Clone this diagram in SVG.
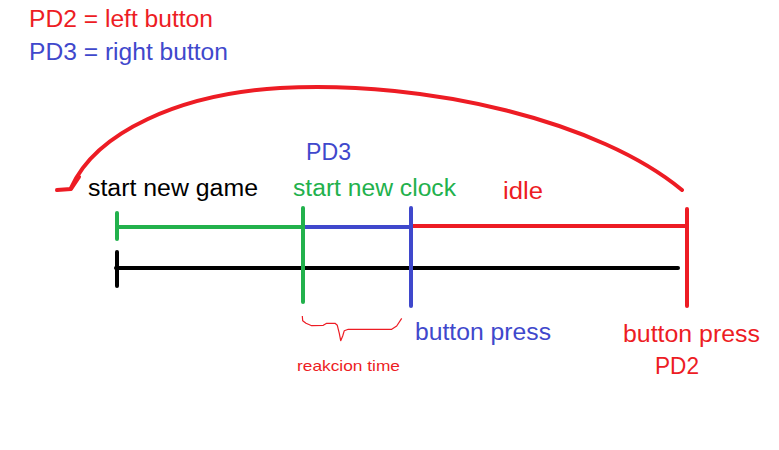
<svg xmlns="http://www.w3.org/2000/svg" width="779" height="450" viewBox="0 0 779 450">
  <style>
    .t { font-family: "Liberation Sans", "Noto Sans", Arial, sans-serif; font-size: 23px; }
    .small { font-size: 15px; }
    .red { fill: #ED1C24; }
    .blue { fill: #3F48CC; }
    .green { fill: #22B14C; }
    .black { fill: #000000; }
    .ln { fill: none; stroke-width: 4; stroke-linecap: round; stroke-linejoin: round; }
  </style>
  <rect width="779" height="450" fill="#ffffff"/>

  <!-- legend -->
  <g id="legend">
    <text class="t red" x="29" y="27" textLength="184" lengthAdjust="spacingAndGlyphs">PD2 = left button</text>
    <text class="t blue" x="29" y="60" textLength="199" lengthAdjust="spacingAndGlyphs">PD3 = right button</text>
  </g>

  <!-- connectors: timelines, markers and the return arc -->
  <g id="connectors">
    <!-- return arc from the PD2 press back to a new game -->
    <path class="ln" stroke="#ED1C24" d="M682,190 C600,122 430,80 280,88 C180,94 96,132 71,188"/>
    <path class="ln" stroke="#ED1C24" d="M79,177 L71,189 L57,190"/>

    <!-- reference timeline -->
    <line class="ln" stroke="#000000" x1="116" y1="268" x2="678" y2="268"/>
    <line class="ln" stroke="#000000" x1="117" y1="252" x2="117" y2="286"/>

    <!-- game phases -->
    <line class="ln" stroke="#22B14C" x1="117" y1="227" x2="302" y2="227"/>
    <line class="ln" stroke="#22B14C" x1="117" y1="213" x2="117" y2="239"/>
    <line class="ln" stroke="#3F48CC" x1="305" y1="227" x2="411" y2="227"/>
    <line class="ln" stroke="#ED1C24" x1="412" y1="226" x2="686" y2="226"/>

    <line class="ln" stroke="#22B14C" x1="303" y1="208" x2="303" y2="302"/>
    <line class="ln" stroke="#3F48CC" x1="411" y1="208" x2="411" y2="306"/>
    <line class="ln" stroke="#ED1C24" x1="687" y1="209" x2="687" y2="306"/>

    <!-- brace under the reaction interval -->
    <path fill="none" stroke="#ED1C24" stroke-width="1.2" stroke-linejoin="round"
          d="M302.3,316 L302.7,320.7 L306,323.3 L311.7,325.7 L323.3,325.3 L326.7,323.3 L335,323.3 L337.3,325.3 L339.3,333.3 L340.7,340.7 L342.7,336 L344.3,330.7 L348.3,329.3 L391.7,329.3 L396.7,326 L401.7,318.3"/>
  </g>

  <g id="start-new-game">
    <text class="t black" x="88" y="196" textLength="170" lengthAdjust="spacingAndGlyphs">start new game</text>
  </g>

  <g id="start-new-clock">
    <text class="t blue" x="306" y="160" textLength="45" lengthAdjust="spacingAndGlyphs">PD3</text>
    <text class="t green" x="293" y="196" textLength="163" lengthAdjust="spacingAndGlyphs">start new clock</text>
  </g>

  <g id="idle">
    <text class="t red" x="503" y="199" textLength="40" lengthAdjust="spacingAndGlyphs">idle</text>
  </g>

  <g id="reaction-time">
    <text class="t small red" x="297" y="371" textLength="103" lengthAdjust="spacingAndGlyphs">reakcion time</text>
  </g>

  <g id="button-press-pd3">
    <text class="t blue" x="415" y="340" textLength="136" lengthAdjust="spacingAndGlyphs">button press</text>
  </g>

  <g id="button-press-pd2">
    <text class="t red" x="623" y="342" textLength="137" lengthAdjust="spacingAndGlyphs">button press</text>
    <text class="t red" x="655" y="374" textLength="44" lengthAdjust="spacingAndGlyphs">PD2</text>
  </g>
</svg>
